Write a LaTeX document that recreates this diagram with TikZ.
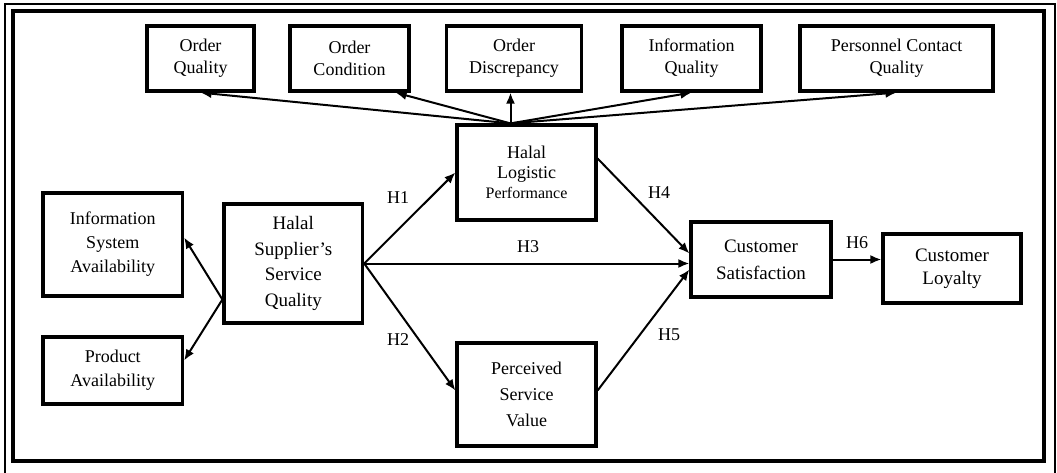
\documentclass[tikz,border=0pt]{standalone}
\usepackage{fontspec}
\setmainfont{Liberation Serif}
\usetikzlibrary{arrows.meta,calc}
\begin{document}
\begin{tikzpicture}[x=1pt,y=-1pt,
  box/.style={draw, line width=3.2pt, inner sep=0pt, align=center, minimum height=#1},
  arr/.style={line width=2pt, -{Latex[length=11pt,width=9pt]}},
  lab/.style={font=\fontsize{18}{20}\selectfont, inner sep=0pt}]
\useasboundingbox (0,0) rectangle (1057,473);
% frames
\draw[line width=1.2pt] (5,4) rectangle (1055,480);
\draw[line width=3.8pt] (13,11) rectangle (1044,461);
% top row
\node[box=65pt, minimum width=107pt, font=\fontsize{18}{22}\selectfont] (oq) at (200.5,58.5) {Order\\Quality};
\node[box=65pt, minimum width=119pt, font=\fontsize{18}{22}\selectfont] (oc) at (349.5,58.5) {Order\\Condition};
\node[box=65pt, minimum width=135pt, font=\fontsize{18}{22}\selectfont] (od) at (514,58.5) {Order\\Discrepancy};
\node[box=65pt, minimum width=139pt, font=\fontsize{18}{22}\selectfont] (iq) at (691.5,58.5) {Information\\Quality};
\node[box=65pt, minimum width=193pt, font=\fontsize{18}{22}\selectfont] (pc) at (896.5,58.5) {Personnel Contact\\Quality};
% middle
\node[box=95pt, minimum width=139pt, font=\fontsize{18}{20}\selectfont] (hlp) at (526.5,172.5) {Halal\\Logistic\\{\fontsize{16}{20}\selectfont Performance}};
\node[box=103pt, minimum width=139.5pt, font=\fontsize{18}{24}\selectfont] (isa) at (112.75,244.5) {Information\\System\\Availability};
\node[box=67pt, minimum width=139.5pt, font=\fontsize{18}{24}\selectfont] (pa) at (112.75,370.5) {Product\\Availability};
\node[box=119pt, minimum width=138.6pt, font=\fontsize{19}{25.5}\selectfont] (hssq) at (293.3,263.5) {Halal\\Supplier’s\\Service\\Quality};
\node[box=103pt, minimum width=139pt, font=\fontsize{18}{26}\selectfont] (psv) at (526.5,394.5) {Perceived\\Service\\Value};
\node[box=75pt, minimum width=140pt, font=\fontsize{19}{27}\selectfont] (cs) at (761,259.5) {Customer\\Satisfaction};
\node[box=69pt, minimum width=138pt, font=\fontsize{19}{23}\selectfont] (cl) at (952,268.5) {Customer\\Loyalty};
% connectors from HLP to indicators
\coordinate (o) at ($(hlp.north)+(-16,0)$);
\draw[arr] (o) -- (oq.south);
\draw[arr] (o) -- ($(oc.south east)+(-15,0)$);
\draw[arr] (o) -- (o |- od.south);
\draw[arr] (o) -- (iq.south);
\draw[arr] (o) -- (pc.south);
% HSSQ to its indicators
\coordinate (h) at ($(hssq.west)+(0,36)$);
\draw[arr] (h) -- ($(isa.east)+(0,-7)$);
\draw[arr] (h) -- ($(pa.east)+(0,-10)$);
% hypotheses
\draw[arr] (hssq.east) -- (hlp.west);
\draw[arr] (hssq.east) -- ($(psv.west)+(0,-4)$);
\draw[arr] (hssq.east) -- ($(cs.west)+(0,4)$);
\draw[arr] ($(hlp.east)+(0,-14)$) -- ($(cs.west)+(0,-6)$);
\draw[arr] ($(psv.east)+(0,-4)$) -- ($(cs.west)+(0,10)$);
\draw[arr] (cs.east) -- (cs.east -| cl.west);
% labels
\node[lab] (h1) at (398,198) {H1};
\node[lab] (h2) at (398,340) {H2};
\node[lab] (h3) at (528,247) {H3};
\node[lab] (h4) at (659,193) {H4};
\node[lab] (h5) at (669,335) {H5};
\node[lab] (h6) at (857,243) {H6};
\end{tikzpicture}
\end{document}
